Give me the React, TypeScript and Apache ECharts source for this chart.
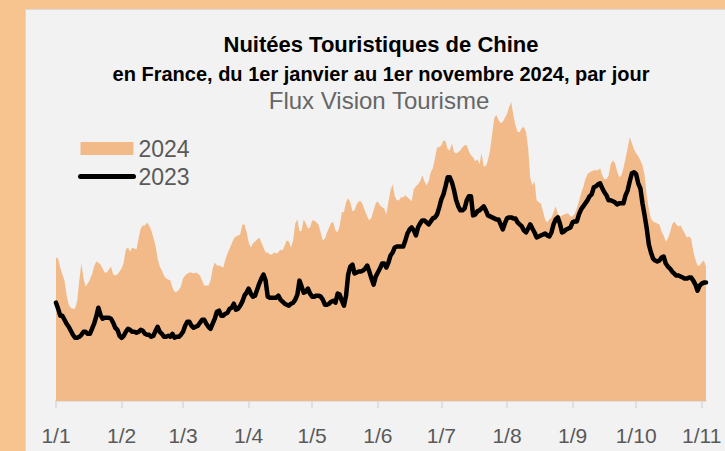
import React, { useEffect, useRef } from "react";
import * as echarts from "echarts";

// Nuitées touristiques (milliers) — lecture du graphique
const values2024: number[] = [
  14.3, 14.2, 13.3, 12.6, 12.0, 10.6, 9.6, 9.3, 9.2, 9.2,
  10.0, 12.0, 13.7, 12.2, 11.4, 11.7, 12.1, 12.6, 13.4, 13.9,
  13.8, 13.6, 13.2, 12.8, 12.8, 13.1, 13.4, 12.6, 12.5, 12.6,
  12.9, 13.2, 13.8, 15.1, 15.3, 14.9, 15.3, 15.2, 15.1, 16.2,
  17.2, 17.5, 17.5, 17.8, 17.5, 17.0, 16.3, 15.5, 14.2, 13.4,
  13.0, 12.5, 12.2, 12.1, 12.0, 11.3, 10.9, 10.9, 11.1, 11.4,
  12.2, 12.5, 12.7, 12.8, 12.8, 12.7, 12.8, 12.7, 12.5, 12.0,
  11.5, 11.5, 11.5, 12.0, 13.2, 13.8, 13.5, 13.5, 13.4, 13.3,
  14.1, 14.7, 15.2, 15.7, 16.2, 16.4, 16.5, 16.6, 17.6, 17.6,
  16.9, 15.8, 15.3, 15.7, 15.9, 16.1, 16.3, 15.8, 15.3, 14.8,
  14.8, 14.6, 14.6, 14.8, 14.7, 14.8, 15.1, 15.0, 15.5, 16.0,
  15.9, 15.3, 16.0, 17.7, 18.1, 16.9, 17.0, 18.1, 17.7, 17.2,
  17.3, 18.0, 18.0, 17.8, 17.6, 16.8, 16.0, 16.2, 16.8, 17.3,
  17.8, 17.8, 17.0, 16.8, 17.5, 18.8, 18.8, 19.8, 20.2, 19.8,
  18.9, 19.0, 19.6, 19.9, 19.9, 19.5, 18.9, 18.4, 18.0, 18.3,
  19.0, 19.7, 19.9, 19.5, 19.3, 19.2, 18.6, 19.8, 21.0, 21.6,
  20.4, 20.0, 20.0, 20.3, 20.3, 20.5, 20.3, 20.1, 19.9, 21.1,
  21.4, 21.6, 21.9, 22.5, 21.9, 21.5, 21.9, 22.8, 23.2, 24.2,
  25.3, 25.3, 25.5, 26.0, 25.9, 25.1, 25.0, 25.7, 24.8, 24.7,
  24.8, 25.0, 25.3, 25.5, 25.5, 24.9, 24.5, 24.3, 23.9, 24.1,
  23.6, 24.7, 23.4, 23.4, 24.0, 25.0, 26.6, 28.2, 28.5, 28.0,
  27.7, 27.8, 28.2, 28.6, 29.3, 29.8, 28.5, 27.5, 26.8, 26.8,
  27.2, 27.3, 26.8, 25.2, 22.2, 21.5, 21.9, 20.0, 19.8, 19.7,
  18.9, 18.1, 17.8, 18.1, 18.3, 18.8, 19.4, 18.7, 18.4, 18.5,
  18.6, 18.7, 18.7, 18.4, 18.4, 18.7, 19.2, 19.9, 20.7, 21.3,
  22.1, 22.6, 22.8, 22.9, 23.0, 23.0, 23.0, 23.2, 22.5, 22.1,
  22.1, 22.5, 23.6, 24.0, 23.7, 22.9, 22.3, 22.5, 23.2, 24.2,
  25.2, 26.3, 25.7, 25.1, 24.7, 24.4, 24.0, 23.5, 22.5, 20.5,
  19.1, 18.2, 17.9, 17.8, 17.7, 17.6, 16.9, 16.5, 15.9, 16.2,
  16.8, 17.6, 17.9, 17.6, 17.4, 17.5, 17.1, 16.7, 16.3, 16.4,
  16.2, 14.9, 14.1, 13.5, 13.5, 13.8, 14.0, 13.4,
];

const values2023: number[] = [
  9.8, 9.2, 8.5, 8.5, 8.1, 7.7, 7.4, 7.0, 6.6, 6.3,
  6.3, 6.4, 6.6, 6.9, 6.9, 6.7, 6.7, 7.2, 7.7, 8.4,
  9.3, 8.6, 8.2, 8.3, 8.3, 8.3, 8.2, 7.8, 7.3, 7.1,
  6.5, 6.3, 6.5, 6.9, 7.2, 7.1, 6.9, 6.9, 6.8, 6.9,
  7.1, 7.0, 6.7, 6.6, 6.6, 6.4, 6.5, 7.0, 7.4, 6.9,
  6.7, 6.4, 6.4, 6.5, 6.4, 6.7, 6.3, 6.4, 6.4, 6.6,
  6.9, 7.5, 7.9, 7.9, 7.5, 7.3, 7.4, 7.5, 7.8, 8.1,
  8.1, 7.7, 7.4, 7.2, 7.7, 8.2, 8.9, 9.0, 8.5, 8.5,
  8.7, 8.8, 9.2, 9.3, 9.7, 9.1, 9.2, 9.5, 9.9, 10.5,
  10.8, 11.2, 10.7, 10.4, 10.5, 11.1, 11.7, 12.2, 12.6, 12.0,
  10.4, 10.3, 10.3, 10.3, 10.3, 10.5, 10.1, 9.9, 9.7, 9.6,
  9.5, 9.7, 9.8, 10.1, 10.6, 12.0, 11.4, 10.8, 10.9, 11.2,
  10.7, 10.4, 10.4, 10.5, 10.5, 10.4, 10.1, 9.6, 9.6, 9.7,
  9.9, 10.0, 9.8, 10.7, 10.6, 10.0, 9.5, 10.5, 12.6, 13.4,
  13.6, 12.7, 12.8, 12.9, 12.9, 13.0, 13.2, 13.5, 12.9, 12.2,
  11.6, 12.4, 12.8, 13.2, 13.7, 13.7, 13.3, 13.8, 14.5, 14.8,
  15.3, 15.4, 15.4, 15.4, 15.4, 16.0, 16.7, 17.1, 17.3, 17.0,
  16.5, 17.3, 17.7, 18.0, 18.0, 17.8, 17.6, 17.9, 18.2, 18.3,
  18.6, 19.3, 20.1, 20.6, 21.4, 22.3, 22.3, 21.8, 21.0, 20.0,
  19.4, 19.0, 19.0, 19.2, 20.0, 20.4, 20.4, 18.5, 18.6, 18.9,
  19.0, 19.2, 19.4, 19.0, 18.5, 18.4, 18.3, 18.2, 18.1, 18.1,
  17.6, 17.1, 17.7, 18.2, 18.3, 18.3, 18.2, 18.2, 17.8, 17.6,
  17.4, 17.0, 16.8, 17.2, 17.6, 17.2, 16.8, 16.3, 16.4, 16.5,
  16.6, 16.7, 16.5, 16.4, 16.8, 17.6, 18.1, 18.3, 17.7, 16.8,
  16.9, 17.1, 17.2, 17.3, 17.8, 17.9, 17.9, 18.6, 19.1, 19.4,
  19.7, 20.0, 20.4, 20.6, 21.3, 21.4, 21.6, 21.7, 21.2, 20.8,
  20.5, 20.0, 20.0, 19.9, 19.8, 19.6, 19.7, 19.7, 19.7, 20.5,
  21.0, 21.9, 22.7, 22.8, 22.6, 21.7, 21.2, 19.7, 18.5, 17.2,
  15.6, 14.8, 14.2, 14.0, 13.9, 14.0, 14.3, 14.4, 13.7, 13.4,
  13.2, 12.9, 12.7, 12.5, 12.5, 12.4, 12.3, 12.2, 12.2, 12.3,
  12.3, 12.0, 11.6, 11.0, 11.5, 11.7, 11.8, 11.8,
];

// Catégories : jours du 1er janvier au 3 novembre, étiquetés "j/m"
const startDate = new Date(2024, 0, 1);
const categories: string[] = values2024.map((_, i) => {
  const d = new Date(startDate.getFullYear(), startDate.getMonth(), startDate.getDate() + i);
  return `${d.getDate()}/${d.getMonth() + 1}`;
});

const titleLine1 = "Nuitées Touristiques de Chine";
const titleLine2 = "en France, du 1er janvier au 1er novembre 2024, par jour";
const subtitle = "Flux Vision Tourisme";
const seriesNames = ["2024", "2023"];

const FONT = "'Liberation Sans', Arial, sans-serif";
const isMonthStart = (_i: number, v: string) => v.startsWith("1/");

export default function App() {
  const ref = useRef<HTMLDivElement>(null);

  useEffect(() => {
    if (!ref.current) return;
    const chart = echarts.init(ref.current, null, { renderer: "svg" });
    chart.setOption({
      animation: false,
      backgroundColor: "transparent",
      grid: { left: 56, right: 19, top: 100, bottom: 50, containLabel: false },
      graphic: [
        {
          type: "text",
          x: 381,
          y: 44,
          style: {
            text: titleLine1,
            fontFamily: FONT,
            fontWeight: "bold",
            fontSize: 22,
            fill: "#000000",
            textAlign: "center",
            textVerticalAlign: "middle",
          },
        },
        {
          type: "text",
          x: 381,
          y: 74,
          style: {
            text: titleLine2,
            fontFamily: FONT,
            fontWeight: "bold",
            fontSize: 20,
            fill: "#000000",
            textAlign: "center",
            textVerticalAlign: "middle",
          },
        },
        {
          type: "text",
          x: 379,
          y: 100,
          style: {
            text: subtitle,
            fontFamily: FONT,
            fontSize: 24,
            fill: "#666666",
            textAlign: "center",
            textVerticalAlign: "middle",
          },
        },
      ],
      legend: {
        orient: "vertical",
        left: 73,
        top: 132,
        itemWidth: 53,
        itemHeight: 13,
        itemGap: 5,
        textStyle: { fontFamily: FONT, fontSize: 23, color: "#595959" },
        data: [
          { name: seriesNames[0], icon: "rect" },
          {
            name: seriesNames[1],
            itemStyle: { opacity: 0 },
            lineStyle: { width: 5, color: "#000000", cap: "round" },
          },
        ],
      },
      xAxis: {
        type: "category",
        data: categories,
        boundaryGap: false,
        axisLine: { lineStyle: { color: "#d9d9d9", width: 1.5 } },
        axisTick: {
          interval: isMonthStart,
          length: 7,
          lineStyle: { color: "#d9d9d9", width: 1.5 },
        },
        axisLabel: {
          interval: isMonthStart,
          margin: 24,
          fontFamily: FONT,
          fontSize: 21,
          color: "#595959",
        },
        splitLine: { show: false },
      },
      yAxis: {
        type: "value",
        min: 0,
        max: 30,
        show: false,
      },
      series: [
        {
          name: seriesNames[0],
          type: "line",
          data: values2024,
          symbol: "none",
          lineStyle: { width: 0, color: "#f2ba89" },
          itemStyle: { color: "#f2ba89" },
          areaStyle: { color: "#f2ba89", opacity: 1 },
          z: 1,
        },
        {
          name: seriesNames[1],
          type: "line",
          data: values2023,
          symbol: "none",
          lineStyle: { width: 4.5, color: "#000000", cap: "round", join: "round" },
          itemStyle: { color: "#000000" },
          z: 3,
        },
      ],
    });
    return () => chart.dispose();
  }, []);

  return (
    <div
      style={{
        position: "absolute",
        left: 0,
        top: 0,
        width: 725,
        height: 451,
        background: "#f7c38f",
        overflow: "hidden",
      }}
    >
      <div
        style={{
          position: "absolute",
          left: 25,
          top: 9,
          width: 720,
          height: 460,
          background: "#f2f2f2",
          border: "1px solid #d9d9d9",
        }}
      />
      <div ref={ref} style={{ position: "absolute", left: 0, top: 0, width: 725, height: 451 }} />
    </div>
  );
}
